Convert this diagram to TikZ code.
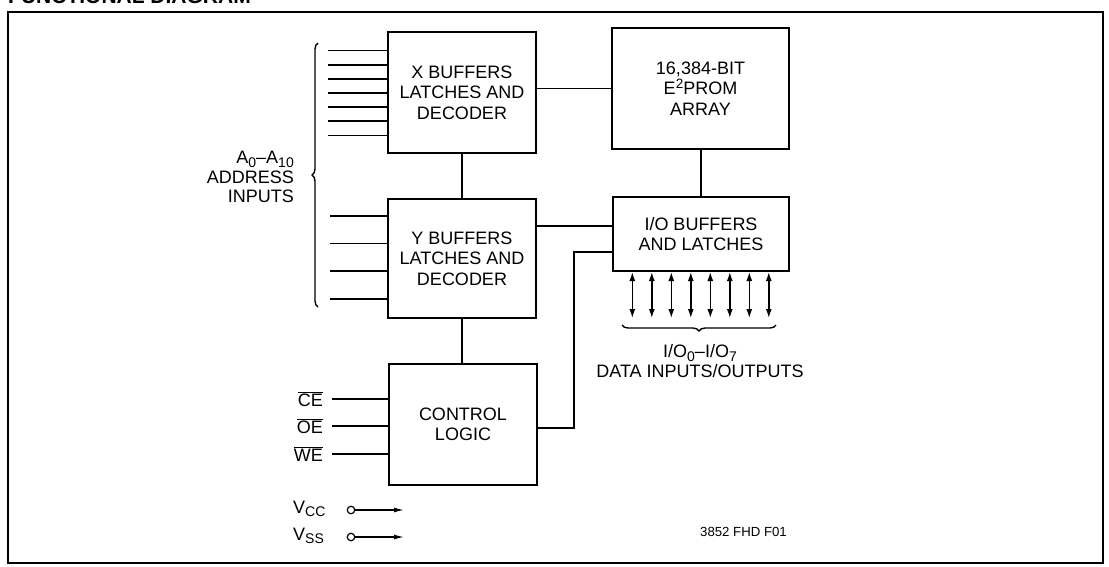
\documentclass[tikz,border=0pt]{standalone}
\usepackage{fontspec}
\setmainfont{Liberation Sans}
\usetikzlibrary{arrows.meta,decorations.pathreplacing}
\newcommand\lsub[1]{\raisebox{-3.5pt}{\fontsize{14}{14}\selectfont #1}}
\newcommand\lsup[1]{\raisebox{6pt}{\fontsize{13.5}{13.5}\selectfont #1}}
\tikzset{
  blk/.style={draw,line width=2pt,align=center,inner sep=0pt,
    font=\fontsize{18}{20.5}\selectfont},
  wire/.style={line width=1.5pt},
  lbl/.style={font=\fontsize{18}{19.5}\selectfont,inner sep=0pt},
  bidir/.style={line width=1.4pt,{Latex[length=9pt,width=6pt]}-{Latex[length=9pt,width=6pt]}},
  pwr/.style={line width=1.3pt,-{Latex[length=10pt,width=5pt]}},
  brc/.style={line width=1.4pt,decorate,decoration={brace,amplitude=6pt}}
}
\begin{document}
\begin{tikzpicture}[x=1pt,y=-1pt]
\useasboundingbox (0,0) rectangle (1109,566);
\clip (0,0) rectangle (1109,566);
\node[anchor=base west,inner sep=0pt,font=\fontsize{21}{21}\selectfont\bfseries] (title) at (8,3.5) {FUNCTIONAL DIAGRAM};
\draw[line width=1.6pt] (8,12) rectangle (1103,563);

% blocks
\node[blk,minimum width=148pt,minimum height=121pt] (X) at (462,92.5) {X BUFFERS\\LATCHES AND\\DECODER};
\node[blk,minimum width=177pt,minimum height=121pt] (E) at (700.5,88.5) {16,384-BIT\\E\lsup{2}PROM\\ARRAY};
\node[blk,minimum width=148pt,minimum height=119pt] (Y) at (462,258.5) {Y BUFFERS\\LATCHES AND\\DECODER};
\node[blk,minimum width=176pt,minimum height=74pt] (IO) at (701,234) {I/O BUFFERS\\AND LATCHES};
\node[blk,minimum width=148pt,minimum height=121pt] (C) at (463,424.5) {CONTROL\\LOGIC};

% connections between blocks
\draw[wire] (X.east |- E.west) -- (E.west);
\draw[wire] (X.south) -- (Y.north);
\draw[wire] (E.south -| IO.north) -- (IO.north);
\draw[wire] (Y.south) -- (Y.south |- C.north);
\coordinate (io1) at ([yshift=8pt]IO.west);
\draw[wire] (io1) -- (io1 -| Y.east);
\coordinate (io2) at ([yshift=-18pt]IO.west);
\coordinate (c1) at ([yshift=-3.5pt]C.east);
\draw[wire] (io2) -- ++(-38,0) |- (c1);

% address inputs
\foreach \yy in {50.7,64.8,78.9,93,107.1,121.2,135.3}
  \draw[wire] (328,\yy) -- (X.west |- 0,\yy);
\foreach \yy in {216,243.5,271,299}
  \draw[wire] (330,\yy) -- (Y.west |- 0,\yy);
\draw[brc] (318,307) -- (318,43);
\node[lbl,anchor=east,align=right] (addr) at (294,177) {A\lsub{0}--A\lsub{10}\\ADDRESS\\INPUTS};

% data I/O
\foreach \i in {0,...,7}
  \draw[bidir] ([xshift={20.3pt+19.5pt*\i}]IO.south west) -- ++(0,46);
\draw[brc] (776,325) -- (622,325);
\node[lbl,align=center] (dlbl) at (700,361) {I/O\lsub{0}--I/O\lsub{7}\\DATA INPUTS/OUTPUTS};

% control inputs
\foreach \yy/\t in {399/CE,426/OE,454/WE}{
  \draw[wire] (332,\yy) -- (C.west |- 0,\yy);
  \node[lbl,anchor=east] at (323,\yy) {\(\overline{\mbox{\t}}\)};
}

% power
\node[lbl,anchor=west] (vccl) at (293,509) {V\lsub{CC}};
\node[lbl,anchor=west] (vssl) at (293,536) {V\lsub{SS}};
\node[circle,draw,line width=1.2pt,inner sep=0pt,minimum size=7.5pt] (vcc) at (351,510) {};
\node[circle,draw,line width=1.2pt,inner sep=0pt,minimum size=7.5pt] (vss) at (351,537) {};
\coordinate (vccend) at (404,510);
\coordinate (vssend) at (404,537);
\draw[pwr] (vcc) -- (vccend);
\draw[pwr] (vss) -- (vssend);

\node[anchor=west,inner sep=0pt,font=\fontsize{13.2}{14}\selectfont] (ref) at (700,532) {3852 FHD F01};
\end{tikzpicture}
\end{document}
